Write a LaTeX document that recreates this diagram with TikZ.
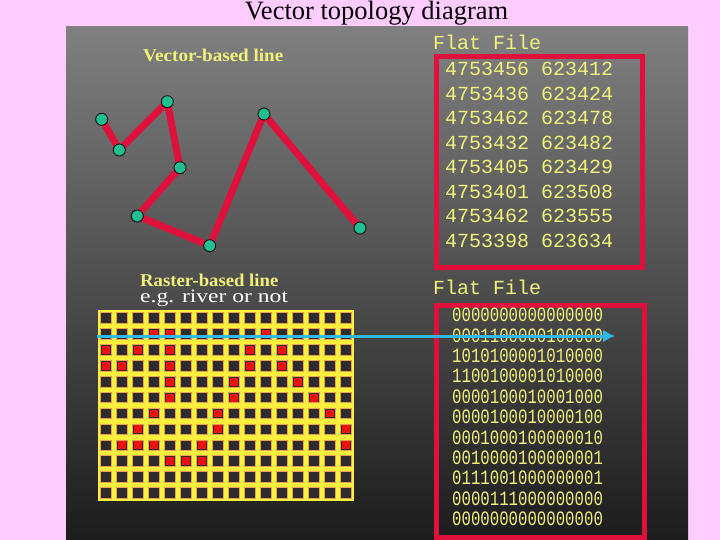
\documentclass[tikz,border=0pt]{standalone}
\usepackage{fontspec}
\setmainfont{Liberation Serif}
\setmonofont{Liberation Mono}
\usetikzlibrary{positioning,arrows.meta}
\definecolor{pinkbg}{HTML}{FFCCFF}
\definecolor{crim}{HTML}{E0103C}
\definecolor{vert}{HTML}{1FBF8F}
\definecolor{lemon}{HTML}{F2F27A}
\definecolor{gridy}{HTML}{FFF040}
\definecolor{gridor}{HTML}{F0A050}
\definecolor{cellbg}{HTML}{2C2C2C}
\definecolor{rcell}{HTML}{EE1010}
\definecolor{sky}{HTML}{30B8F0}
\tikzset{
	vtx/.style={circle,draw=black,fill=vert,line width=0.8pt,inner sep=0pt,minimum size=12pt},
	track/.style={crim,line width=7pt,line join=round,line cap=round},
	tag/.style={text=lemon,inner sep=0pt,anchor=west,font=\fontsize{18}{18}\selectfont\bfseries},
	flat/.style={text=lemon,inner sep=0pt,anchor=west,font=\fontsize{20}{20}\selectfont\ttfamily},
	bits/.style={text=lemon,inner sep=0pt,anchor=west,font=\fontsize{15.7}{15.7}\selectfont\ttfamily},
	frame/.style={draw=crim,line width=5pt},
	cell/.style={draw=gridor,fill=cellbg,line width=0.9pt},
	hit/.style={fill=rcell}
}
\begin{document}
\begin{tikzpicture}[x=1pt,y=-1pt]
	\useasboundingbox[fill=pinkbg] (0,0) rectangle (720,540);
	\shade[top color=black!50,bottom color=black!89] (66,27) rectangle (688,540);
	\node[anchor=base,inner sep=0pt,font=\fontsize{26.5}{26.5}\selectfont] (title) at (376.5,20) {Vector topology diagram};

	\node[tag] (vectag) at (143,55) {\scalebox{1.06}[1]{Vector-based line}};
	\coordinate (p1) at (101.7,119.3);
	\coordinate (p2) at (119.3,150);
	\coordinate (p3) at (167.3,101.7);
	\coordinate (p4) at (180,167.7);
	\coordinate (p5) at (137.3,216);
	\coordinate (p6) at (209.7,245.7);
	\coordinate (p7) at (264,114);
	\coordinate (p8) at (360,228);
	\draw[track] (p1) -- (p2) -- (p3) -- (p4) -- (p5) -- (p6) -- (p7) -- (p8);
	\foreach \i in {1,...,8}
		\node[vtx] (v\i) at (p\i) {};

	\node[flat] (flat1) at (433,42) {Flat File};
	\draw[frame] (436,57) rectangle (642,267);
	\foreach \e/\n [count=\i] in {4753456/623412,4753436/623424,4753462/623478,4753432/623482,
		4753405/623429,4753401/623508,4753462/623555,4753398/623634}
		\node[flat] (row\i) at (445,{69.3+24.5*(\i-1)}) {\e\ \n};

	\node[tag] (rastag) at (140,280.5) {\scalebox{1.04}[1]{Raster-based line}};
	\node[below=3pt of rastag.south west,anchor=north west,inner sep=0pt,text=white,font=\fontsize{19}{19}\selectfont] (eg) {\scalebox{1.24}[1]{e.g. river or not}};
	\fill[gridy] (98,310) rectangle (354,501);
	\foreach \r in {0,...,11}
		\foreach \c in {0,...,15}
			\draw[cell] ({98+16*\c+2.6},{310+15.92*\r+2.6}) rectangle ++(10.8,10.7);
	\foreach \r/\c in {1/3,1/4,1/10,2/0,2/2,2/4,2/9,2/11,3/0,3/1,3/4,3/9,3/11,4/4,4/8,4/12,
		5/4,5/8,5/13,6/3,6/7,6/14,7/2,7/7,7/15,8/1,8/2,8/3,8/6,8/15,9/4,9/5,9/6}
		\fill[hit] ({98+16*\c+4},{310+15.92*\r+4}) rectangle ++(8,7.9);

	\node[flat] (flat2) at (433,287) {Flat File};
	\draw[frame] (436,305) rectangle (644,537);
	\foreach \b [count=\i] in {0000000000000000,0001100000100000,1010100001010000,1100100001010000,
		0000100010001000,0000100010000100,0001000100000010,0010000100000001,
		0111001000000001,0000111000000000,0000000000000000}
		\node[bits] (bin\i) at (452,{315+20.4*(\i-1)}) {\scalebox{1}[1.3]{\b}};

	\coordinate (sweepA) at (97,336);
	\coordinate (sweepB) at (615,336);
	\draw[sky,line width=3pt,-{Latex[length=12pt,width=13pt]}] (sweepA) -- (sweepB);
\end{tikzpicture}
\end{document}
